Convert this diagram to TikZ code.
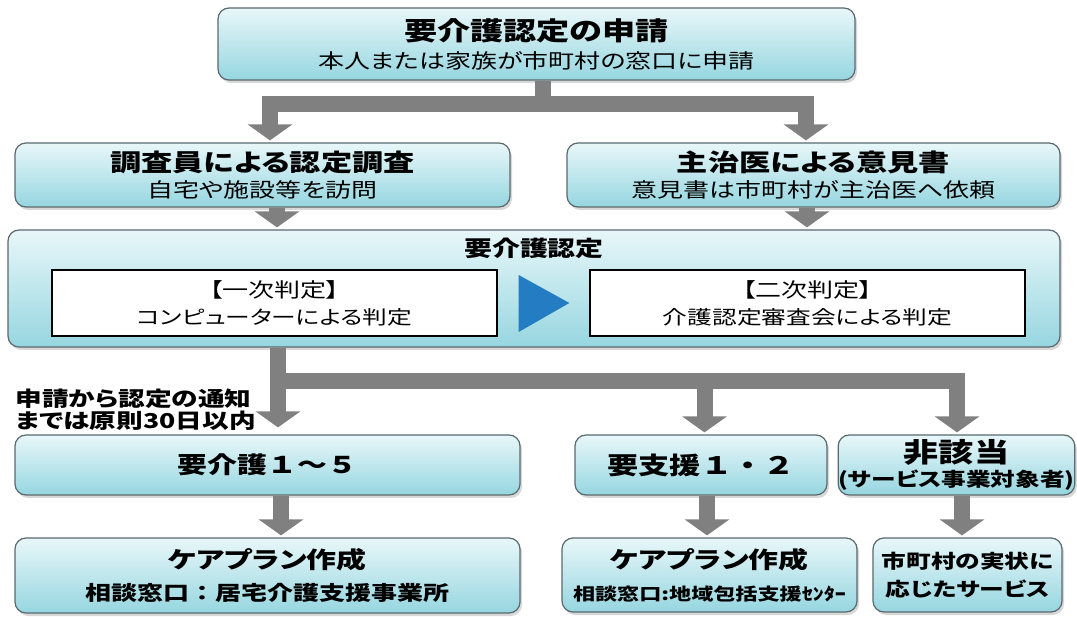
\documentclass[tikz,border=0pt]{standalone}
\usepackage{fontspec}
\setmainfont{Noto Sans CJK JP}[FakeStretch=1.3,RawFeature=+palt]
\newfontfamily\widefont{Noto Sans CJK JP}[FakeStretch=1.3]
\usetikzlibrary{arrows.meta,shadows}

\definecolor{stagetop}{RGB}{232,247,249}
\definecolor{stagebottom}{RGB}{150,214,224}
\definecolor{stageline}{RGB}{90,105,110}
\definecolor{flowgray}{RGB}{128,128,128}
\definecolor{stepblue}{RGB}{36,124,194}
\newcommand\setfs[2]{\fontsize{#1}{#2}\selectfont}

\tikzset{
  stage/.style={draw=stageline, line width=1.2pt, rounded corners=11pt,
    top color=stagetop, bottom color=stagebottom,
    drop shadow={opacity=0.3, shadow xshift=2pt, shadow yshift=-3pt},
    align=center, inner sep=0pt},
  judgebox/.style={draw=black, line width=1.3pt, fill=white, align=center, inner sep=0pt},
  flow/.style={draw=flowgray, line width=16pt, -{Triangle[width=44pt,length=16pt]}, shorten >=2pt}
}

\begin{document}
\begin{tikzpicture}[x=1pt, y=-1pt]
\useasboundingbox[fill=white] (0,0) rectangle (1077,617);

\node[stage, minimum width=637pt, minimum height=72pt, font=\setfs{20}{28}] (req) at (536.5,44)
  {{\setfs{25.5}{28}\bfseries 要介護認定の申請}\\本人または家族が市町村の窓口に申請};

\node[stage, minimum width=495pt, minimum height=64pt, font=\setfs{20}{26}] (inv) at (262.5,175)
  {{\setfs{24}{26}\bfseries 調査員による認定調査}\\自宅や施設等を訪問};
\node[stage, minimum width=493pt, minimum height=64pt, font=\setfs{20}{26}] (doc) at (813.5,175)
  {{\setfs{24}{26}\bfseries 主治医による意見書}\\意見書は市町村が主治医へ依頼};

\node[stage, minimum width=1052pt, minimum height=117pt] (judge) at (534,288.5) {};
\node (judgeT) at (534,248) {\setfs{21.5}{24}\bfseries 要介護認定};
\node[judgebox, minimum width=445pt, minimum height=66pt, font=\setfs{19}{27}] (first) at (274.5,303)
  {{\setfs{20}{27}【一次判定】}\\コンピューターによる判定};
\node[judgebox, minimum width=435pt, minimum height=66pt, font=\setfs{19}{27}] (second) at (807.5,303)
  {{\setfs{20}{27}【二次判定】}\\介護認定審査会による判定};
\fill[stepblue] ([xshift=21pt,yshift=28pt]first.east) -- ([xshift=21pt,yshift=-29pt]first.east)
  -- ([xshift=-20pt]second.west) -- cycle;

\node[anchor=west, align=left, font=\setfs{20.5}{22}\bfseries] (note) at (12,410)
  {申請から認定の通知\\までは原則30日以内};

\node[stage, minimum width=505pt, minimum height=60pt] (care) at (267.5,465)
  {\widefont\setfs{23}{26}\bfseries 要介護１～５};
\node[stage, minimum width=252pt, minimum height=60pt] (supp) at (701,465)
  {\widefont\setfs{24}{26}\bfseries 要支援１・２};
\node[stage, minimum width=213pt, minimum height=60pt, font=\setfs{19}{24}\bfseries] (none) at (956.5,465)
  {{\setfs{27}{24}非該当}\\(サービス事業対象者)};

\node[stage, minimum width=505pt, minimum height=75pt, font=\setfs{20}{32}\bfseries] (planA) at (267.5,575.5)
  {{\setfs{23}{32}ケアプラン作成}\\相談窓口{\widefont ：}居宅介護支援事業所};
\node[stage, minimum width=295pt, minimum height=74pt, font=\setfs{17}{32}\bfseries] (planB) at (709.5,575)
  {{\setfs{23}{32}ケアプラン作成}\\相談窓口:地域包括支援ｾﾝﾀｰ};
\node[stage, minimum width=189pt, minimum height=74pt, font=\setfs{19}{28}\bfseries] (local) at (967.5,575)
  {市町村の実状に\\応じたサービス};

\draw[flow] ([xshift=6.5pt]req.south) -- ++(0,23) -| ([xshift=7.5pt]inv.north);
\draw[flow] ([xshift=6.5pt]req.south) -- ++(0,23) -| ([xshift=-7.5pt]doc.north);

\draw[flow] ([xshift=14.5pt]inv.south) -- ([xshift=14.5pt]inv.south |- judge.north);
\draw[flow] ([xshift=-6.5pt]doc.south) -- ([xshift=-6.5pt]doc.south |- judge.north);

\coordinate (split) at ([xshift=10.5pt]care.north |- judge.south);
\draw[flow, shorten >=7pt] (split) -- ([xshift=10.5pt]care.north);
\draw[flow] (split) -- ++(0,33) -| ([xshift=3.5pt]supp.north);
\draw[flow] (split) -- ++(0,33) -| ([xshift=0.5pt]none.north);

\draw[flow] ([xshift=13.5pt]care.south) -- ([xshift=13.5pt]care.south |- planA.north);
\draw[flow] ([xshift=6pt]supp.south) -- ([xshift=6pt]supp.south |- planB.north);
\draw[flow] ([xshift=5.5pt]none.south) -- ([xshift=5.5pt]none.south |- local.north);
\end{tikzpicture}
\end{document}
